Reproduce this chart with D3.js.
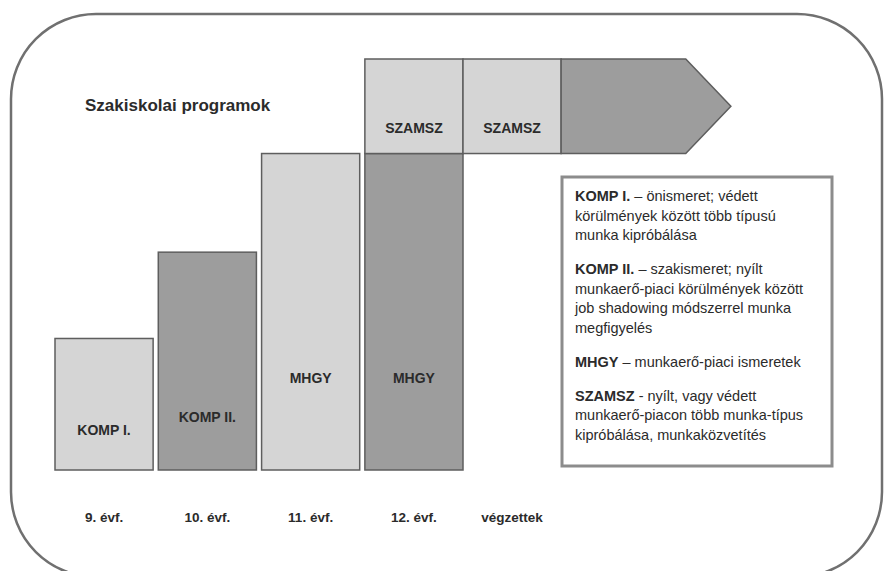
<!DOCTYPE html>
<html>
<head>
<meta charset="utf-8">
<script src="https://cdn.jsdelivr.net/npm/d3@7/dist/d3.min.js"></script>
<style>
  html, body { margin: 0; padding: 0; background: #ffffff; }
  svg { display: block; }
  text { font-family: "Liberation Sans", Arial, sans-serif; fill: #2b2b2b; }
</style>
</head>
<body>
<svg id="chart" width="885" height="571"></svg>
<script>
// ---------- data ----------
const title = "Szakiskolai programok";
const categories = ["9. évf.", "10. évf.", "11. évf.", "12. évf.", "végzettek"];
const barCategories = ["9. évf.", "10. évf.", "11. évf.", "12. évf."];
const barLevels = [3.2, 5.3, 7.7, 7.7];          // height of each program column
const barLabels = ["KOMP I.", "KOMP II.", "MHGY", "MHGY"];
const barShade = ["light", "dark", "light", "dark"];
const labelLevels = [0.85, 1.17, 2.12, 2.12];    // vertical position of label inside column
const topCategories = ["12. évf.", "végzettek"]; // SZAMSZ row
const topLabels = ["SZAMSZ", "SZAMSZ"];
const topFrom = 7.7, topTo = 10;                  // SZAMSZ band level range
const topLabelLevel = 8.2;
const legendKeys = ["KOMP I.", "KOMP II.", "MHGY", "SZAMSZ"];
const legendLines = [
  [" – önismeret; védett", "körülmények között több típusú", "munka kipróbálása"],
  [" – szakismeret; nyílt", "munkaerő-piaci körülmények között", "job shadowing módszerrel munka", "megfigyelés"],
  [" – munkaerő-piaci ismeretek"],
  [" - nyílt, vagy védett", "munkaerő-piacon több munka-típus", "kipróbálása, munkaközvetítés"]
];

// ---------- styles ----------
const fills = { light: "#d5d5d5", dark: "#9d9d9d" };
const stroke = "#5e5e5e";

const svg = d3.select("#chart");

// outer rounded frame
svg.append("rect")
  .attr("x", 11).attr("y", 14).attr("width", 871).attr("height", 563)
  .attr("rx", 85).attr("ry", 85)
  .attr("fill", "none").attr("stroke", "#707070").attr("stroke-width", 2.5);

// scales
const xBars = d3.scaleBand().domain(barCategories)
  .range([55, 463]).paddingInner(0.05).paddingOuter(0);
const bw = xBars.bandwidth();
const x0Top = xBars("12. évf.");
const xTop = d3.scaleBand().domain(topCategories.concat(["_arrow"]))
  .range([x0Top, x0Top + 3 * bw]).padding(0);
const y = d3.scaleLinear().domain([0, 10]).range([470, 59]);

// title
svg.append("text").attr("x", 85).attr("y", 111)
  .attr("font-size", 17).attr("font-weight", "bold").text(title);

// bars
const bars = barCategories.map((c, i) => ({
  cat: c, level: barLevels[i], label: barLabels[i], shade: barShade[i], lab: labelLevels[i]
}));
const g = svg.append("g");
g.selectAll("rect.bar").data(bars).enter().append("rect")
  .attr("class", "bar")
  .attr("x", d => xBars(d.cat))
  .attr("y", d => y(d.level))
  .attr("width", bw)
  .attr("height", d => y(0) - y(d.level))
  .attr("fill", d => fills[d.shade])
  .attr("stroke", stroke).attr("stroke-width", 1.5);

g.selectAll("text.barlab").data(bars).enter().append("text")
  .attr("class", "barlab")
  .attr("x", d => xBars(d.cat) + bw / 2)
  .attr("y", d => y(d.lab))
  .attr("text-anchor", "middle").attr("font-size", 14).attr("font-weight", "bold")
  .text(d => d.label);

// SZAMSZ row (top band)
const tops = topCategories.map((c, i) => ({ cat: c, label: topLabels[i] }));
g.selectAll("rect.top").data(tops).enter().append("rect")
  .attr("class", "top")
  .attr("x", d => xTop(d.cat))
  .attr("y", y(topTo))
  .attr("width", xTop.bandwidth())
  .attr("height", y(topFrom) - y(topTo))
  .attr("fill", fills.light)
  .attr("stroke", stroke).attr("stroke-width", 1.5);
g.selectAll("text.toplab").data(tops).enter().append("text")
  .attr("x", d => xTop(d.cat) + xTop.bandwidth() / 2)
  .attr("y", y(topLabelLevel))
  .attr("text-anchor", "middle").attr("font-size", 14).attr("font-weight", "bold")
  .text(d => d.label);

// arrow
const ax0 = xTop("_arrow");
const ax1 = ax0 + xTop.bandwidth() * 1.27;
const tip = ax1 + xTop.bandwidth() * 0.46;
const yT = y(topTo), yB = y(topFrom), yM = (yT + yB) / 2;
g.append("path")
  .attr("d", `M${ax0},${yT}L${ax1},${yT}L${tip},${yM}L${ax1},${yB}L${ax0},${yB}Z`)
  .attr("fill", fills.dark).attr("stroke", stroke).attr("stroke-width", 1.5)
  .attr("stroke-linejoin", "miter");

// category labels
const catX = c => barCategories.includes(c) ? xBars(c) + bw / 2 : xTop(c) + xTop.bandwidth() / 2;
svg.selectAll("text.cat").data(categories).enter().append("text")
  .attr("x", d => catX(d))
  .attr("y", 522)
  .attr("text-anchor", "middle").attr("font-size", 13.5).attr("font-weight", "bold")
  .text(d => d);

// legend box
svg.append("rect").attr("x", 562).attr("y", 177).attr("width", 270).attr("height", 289)
  .attr("fill", "#fff").attr("stroke", "#8c8c8c").attr("stroke-width", 3);

const lh = 19.5, pstep = 34;
let ly = 201;
legendKeys.forEach((k, i) => {
  legendLines[i].forEach((line, j) => {
    const t = svg.append("text").attr("x", 575).attr("y", ly).attr("font-size", 14.5);
    if (j === 0) {
      t.append("tspan").attr("font-weight", "bold").text(k);
    }
    t.append("tspan").text(line);
    if (j < legendLines[i].length - 1) ly += lh;
  });
  ly += pstep;
});
</script>
</body>
</html>
